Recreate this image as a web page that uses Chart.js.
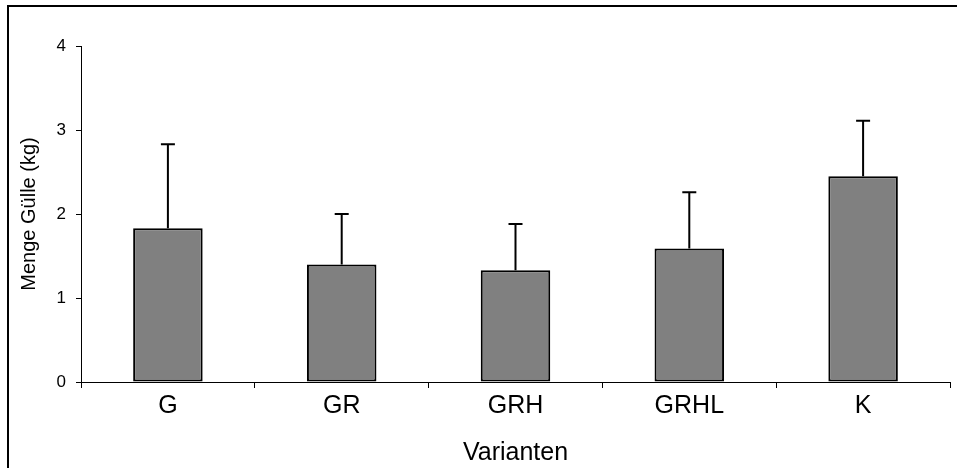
<!DOCTYPE html>
<html>
<head>
<meta charset="utf-8">
<script src="https://cdn.jsdelivr.net/npm/chart.js@4.4.0/dist/chart.umd.min.js"></script>
<style>
  html, body { margin: 0; padding: 0; background: #fff; }
  #wrap { width: 957px; height: 468px; position: relative; }
</style>
</head>
<body>
<div id="wrap"><canvas id="canvas"></canvas></div>
<script>
const varianten = ['G', 'GR', 'GRH', 'GRHL', 'K'];
const mengeGuelle = [1.83, 1.40, 1.33, 1.59, 2.45];
const fehler = [1.00, 0.60, 0.55, 0.67, 0.66];
const yTicks = [0, 1, 2, 3, 4];

// Fehlerbalken nur nach oben, mit Querstrich
const errorBars = {
  id: 'errorBars',
  afterDatasetsDraw(chart) {
    const ctx = chart.ctx;
    const xs = chart.scales.x, ys = chart.scales.y;
    ctx.save();
    ctx.strokeStyle = '#000';
    ctx.lineWidth = 2;
    for (let i = 0; i < mengeGuelle.length; i++) {
      const x = xs.getPixelForValue(i);
      const y0 = ys.getPixelForValue(mengeGuelle[i]);
      const y1 = ys.getPixelForValue(mengeGuelle[i] + fehler[i]);
      ctx.beginPath();
      ctx.moveTo(x, y0);
      ctx.lineTo(x, y1);
      ctx.moveTo(x - 7, y1);
      ctx.lineTo(x + 7, y1);
      ctx.stroke();
    }
    ctx.restore();
  }
};

const frame = {
  id: 'frame',
  afterDraw(chart) {
    const ctx = chart.ctx;
    ctx.save();
    ctx.strokeStyle = '#000';
    ctx.lineWidth = 2;
    ctx.strokeRect(8, 6, 960, 475);
    ctx.restore();
  }
};

const data = {
  labels: varianten,
  datasets: [{
    data: mengeGuelle,
    backgroundColor: '#808080',
    borderColor: '#000',
    borderWidth: 2,
    borderSkipped: false,
    barPercentage: 0.4,
    categoryPercentage: 1.0
  }]
};

const config = {
  type: 'bar',
  data: data,
  options: {
    responsive: true,
    maintainAspectRatio: false,
    animation: false,
    layout: { padding: { top: 46, right: 7, left: 0, bottom: 0 } },
    plugins: { legend: { display: false }, tooltip: { enabled: false } },
    scales: {
      x: {
        grid: { display: true, offset: true, drawOnChartArea: false, tickLength: 6, color: '#000' },
        border: { color: '#000', width: 1 },
        ticks: { color: '#000', padding: 3, font: { family: 'Liberation Sans, Arial', size: 25 } },
        title: { display: true, text: 'Varianten', color: '#000', padding: { top: 0, bottom: 0 },
                 font: { family: 'Liberation Sans, Arial', size: 25 } },
        afterFit(scale) { scale.height = 86; }
      },
      y: {
        min: 0, max: 4,
        afterBuildTicks(scale) { scale.ticks = yTicks.map(v => ({ value: v })); },
        grid: { display: true, drawOnChartArea: false, tickLength: 5, color: '#000' },
        border: { color: '#000', width: 1 },
        ticks: { color: '#000', padding: 10, font: { family: 'Liberation Sans, Arial', size: 17 } },
        title: { display: true, text: 'Menge Gülle (kg)', color: '#000', padding: { top: 17 },
                 font: { family: 'Liberation Sans, Arial', size: 20 } },
        afterFit(scale) { scale.width = 81; }
      }
    }
  },
  plugins: [errorBars, frame]
};

new Chart(document.getElementById('canvas'), config);
</script>
</body>
</html>
